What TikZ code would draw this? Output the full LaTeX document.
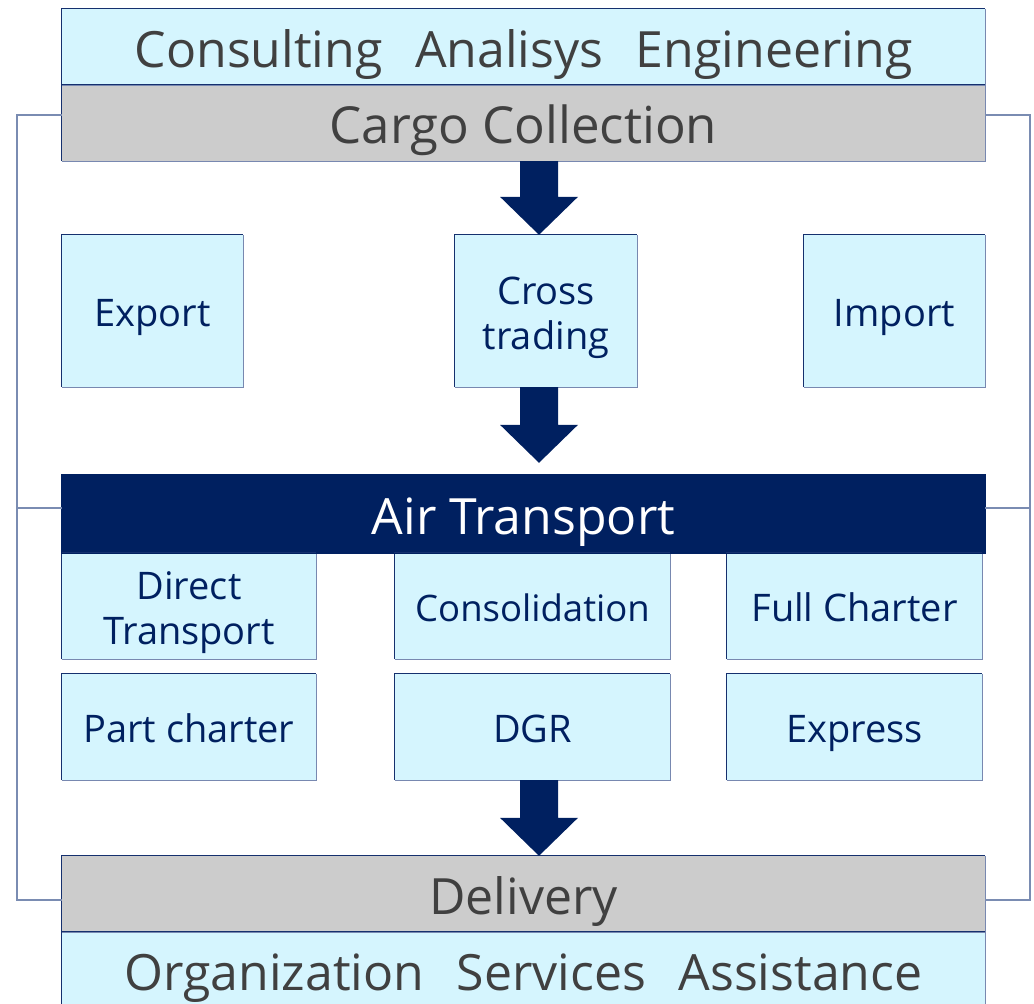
\documentclass[tikz,border=0pt]{standalone}
\usepackage{fontspec}
\setmainfont{Open Sans}
\usetikzlibrary{calc}
\definecolor{navy}{HTML}{002060}
\definecolor{cyanfill}{HTML}{D5F5FE}
\definecolor{grayfill}{HTML}{CCCCCC}
\definecolor{txtgray}{HTML}{404040}
\definecolor{edgedark}{HTML}{15306E}
\definecolor{edgelight}{HTML}{7888B0}
\definecolor{sideline}{HTML}{7A8CB2}
\newcommand{\blockarr}[2]{%
  \path[bigarrow] ($(#1)+(-19,0)$) -- ($(#2)+(-19,38)$) -- ($(#2)+(-39,38)$) -- (#2)
    -- ($(#2)+(39,38)$) -- ($(#2)+(19,38)$) -- ($(#1)+(19,0)$) -- cycle;}
\begin{document}
\begin{tikzpicture}[x=1pt,y=1pt,
  box/.style={fill=cyanfill, text=navy, inner sep=0pt,
    font=\fontsize{38}{45}\selectfont, align=center, text height=31pt, text depth=0pt},
  twoline/.style={text height=76pt},
  band/.style={inner sep=0pt, minimum width=923pt,
    minimum height=76pt, font=\fontsize{50}{60}\selectfont, text=txtgray,
    text height=40pt, text depth=0pt},
  darkedge/.style={draw=edgedark, line width=1.3pt},
  lightedge/.style={draw=edgelight, line width=1.3pt},
  side/.style={draw=sideline, line width=1.3pt},
  bigarrow/.style={fill=navy, draw=none}]
\useasboundingbox (0,0) rectangle (1034,-1004);
\clip (0,0) rectangle (1034,-1004);
\fill[white] (0,0) rectangle (1034,-1004);

% bands
\node[band, fill=cyanfill] (top) at (523.5,-47) {Consulting\hspace{0.65em}Analisys\hspace{0.65em}Engineering};
\node[band, fill=grayfill, font=\fontsize{51}{60}\selectfont] (cargo) at (523.5,-123) {Cargo Collection};
\node[band, fill=navy, text=white, minimum height=78pt] (air) at (523.5,-514) {Air Transport};
\node[band, fill=grayfill] (delivery) at (523.5,-894) {Delivery};
\node[band, fill=cyanfill] (org) at (523.5,-970) {Organization\hspace{0.65em}Services\hspace{0.65em}Assistance};

% upper boxes
\node[box, minimum width=181pt, minimum height=152pt] (export) at (152.5,-311) {Export};
\node[box, twoline, minimum width=182pt, minimum height=152pt] (cross) at (546,-311) {Cross\\trading};
\node[box, minimum width=181pt, minimum height=152pt] (import) at (894.5,-311) {Import};

% air transport services
\node[box, twoline, minimum width=254pt, minimum height=106pt] (direct) at (189,-606) {Direct\\Transport};
\node[box, minimum width=275pt, minimum height=106pt, font=\fontsize{36.5}{45}\selectfont] (consol) at (532.5,-606) {Consolidation};
\node[box, minimum width=255pt, minimum height=106pt] (full) at (854.5,-606) {Full Charter};
\node[box, minimum width=254pt, minimum height=106pt] (part) at (189,-727) {Part charter};
\node[box, minimum width=275pt, minimum height=106pt] (dgr) at (532.5,-727) {DGR};
\node[box, minimum width=255pt, minimum height=106pt] (express) at (854.5,-727) {Express};

% borders: dark top/left, light bottom/right
\foreach \n in {top,cargo,delivery,org,export,cross,import,direct,consol,full,part,dgr,express}{
  \draw[lightedge] (\n.south west) -| (\n.north east);
  \draw[darkedge] (\n.south west) |- (\n.north east);
}
\draw[draw=navy, line width=1.3pt] (air.south west) rectangle (air.north east);

% side connectors
\coordinate (lx) at (17,0);
\coordinate (rx) at (1030,0);
\coordinate (cL) at ([yshift=8pt]cargo.west);
\coordinate (cR) at ([yshift=8pt]cargo.east);
\coordinate (aL) at ([yshift=6pt]air.west);
\coordinate (aR) at ([yshift=6pt]air.east);
\coordinate (dL) at ([yshift=-6pt]delivery.west);
\coordinate (dR) at ([yshift=-6pt]delivery.east);
\draw[side] (cL) -- (cL -| lx) -- (dL -| lx) -- (dL);
\draw[side] (aL -| lx) -- (aL);
\draw[side] (cR) -- (cR -| rx) -- (dR -| rx) -- (dR);
\draw[side] (aR -| rx) -- (aR);

% block arrows
\coordinate (ax) at (539,0);
\coordinate (a1s) at (cargo.south -| ax);
\coordinate (a1t) at (cross.north -| ax);
\coordinate (a2s) at (cross.south -| ax);
\coordinate (a2t) at ($(air.north -| ax)+(0,12)$);
\coordinate (a3s) at (dgr.south -| ax);
\coordinate (a3t) at (delivery.north -| ax);
\blockarr{a1s}{a1t}
\blockarr{a2s}{a2t}
\blockarr{a3s}{a3t}
\end{tikzpicture}
\end{document}
